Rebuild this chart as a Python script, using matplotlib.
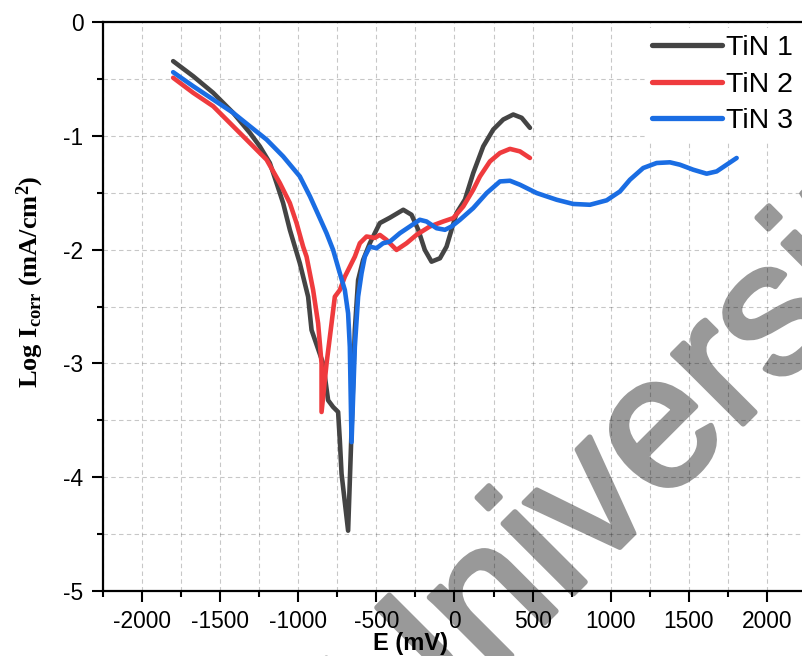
import matplotlib
matplotlib.use("Agg")
import matplotlib.pyplot as plt
import matplotlib.patheffects as pe
from matplotlib.ticker import MultipleLocator

plt.rcParams['font.family'] = ['Liberation Sans', 'DejaVu Sans']
plt.rcParams['axes.unicode_minus'] = False
plt.rcParams['mathtext.fontset'] = 'custom'
plt.rcParams['mathtext.rm'] = 'Liberation Serif:bold'
plt.rcParams['mathtext.bf'] = 'Liberation Serif:bold'
plt.rcParams['mathtext.it'] = 'Liberation Serif:bold'

# polarisation curves
e_tin1 = [-1801, -1673, -1545, -1417, -1310, -1246, -1182, -1139, -1097, -1054, -990, -937,
          -915, -841, -809, -777, -745, -734, -723, -681, -670, -659, -638, -617, -585, -542,
          -478, -414, -328, -275, -232, -190, -147, -93, -51, -19, 13, 67, 120, 184, 248, 312,
          376, 430, 483]
i_tin1 = [-0.344, -0.476, -0.622, -0.798, -0.974, -1.093, -1.239, -1.415, -1.591, -1.826, -2.12,
          -2.414, -2.707, -3.001, -3.324, -3.383, -3.427, -3.677, -3.970, -4.470, -4.029, -3.588,
          -2.707, -2.267, -2.091, -1.944, -1.767, -1.72, -1.650, -1.694, -1.826, -2.003, -2.106,
          -2.076, -1.974, -1.826, -1.679, -1.56, -1.327, -1.093, -0.945, -0.857, -0.813, -0.842,
          -0.930]

e_tin2 = [-1801, -1673, -1545, -1417, -1310, -1203, -1118, -1054, -1011, -969, -947, -905, -873,
          -851, -851, -819, -787, -766, -734, -702, -670, -638, -606, -563, -510, -478, -435,
          -371, -307, -243, -158, -72, -8, 56, 120, 163, 227, 291, 355, 419, 483]
i_tin2 = [-0.490, -0.622, -0.740, -0.916, -1.063, -1.210, -1.415, -1.591, -1.767, -1.974, -2.062,
          -2.355, -2.648, -3.001, -3.427, -3.001, -2.648, -2.414, -2.355, -2.238, -2.150, -2.062,
          -1.944, -1.885, -1.897, -1.871, -1.915, -2.003, -1.944, -1.870, -1.797, -1.753, -1.723,
          -1.621, -1.474, -1.357, -1.225, -1.151, -1.115, -1.137, -1.195]

e_tin3 = [-1801, -1673, -1545, -1417, -1310, -1203, -1097, -990, -925, -870, -819, -777, -734,
          -702, -681, -670, -659, -638, -617, -595, -574, -542, -499, -457, -414, -350, -286,
          -222, -179, -115, -61, -19, 35, 120, 206, 291, 355, 419, 526, 654, 760, 867, 974,
          1059, 1123, 1208, 1294, 1379, 1443, 1528, 1614, 1678, 1742, 1806]
i_tin3 = [-0.441, -0.564, -0.681, -0.798, -0.916, -1.033, -1.181, -1.357, -1.533, -1.70, -1.856,
          -2.003, -2.208, -2.355, -2.560, -2.855, -3.692, -2.855, -2.414, -2.208, -2.062, -1.974,
          -1.988, -1.944, -1.930, -1.856, -1.797, -1.738, -1.753, -1.812, -1.826, -1.797, -1.738,
          -1.635, -1.503, -1.401, -1.395, -1.43, -1.503, -1.562, -1.599, -1.606, -1.567, -1.489,
          -1.386, -1.283, -1.239, -1.233, -1.254, -1.298, -1.333, -1.313, -1.254, -1.195]

labels = ['TiN 1', 'TiN 2', 'TiN 3']
colors = ['#444444', '#EF3B3E', '#1A6DE3']

fig = plt.figure(figsize=(8.03, 6.56), dpi=100, facecolor='white')
ax = fig.add_axes([103 / 803, 1 - 591 / 656, 703 / 803, 569 / 656])
ax.patch.set_visible(False)

for e, i, lab, c in zip([e_tin1, e_tin2, e_tin3], [i_tin1, i_tin2, i_tin3], labels, colors):
    ax.plot(e, i, color=c, lw=3.3, label=lab, solid_capstyle='round', solid_joinstyle='round')

ax.set_xlim(-2250, 2250)
ax.set_ylim(-5, 0)
ax.xaxis.set_major_locator(MultipleLocator(500))
ax.xaxis.set_minor_locator(MultipleLocator(250))
ax.yaxis.set_major_locator(MultipleLocator(1))
ax.yaxis.set_minor_locator(MultipleLocator(0.5))
# translucent grid so it shows darker where it crosses the watermark
ax.grid(which='both', color='black', alpha=0.22, lw=0.8, ls=(0, (4, 3)))
ax.set_axisbelow(True)
ax.tick_params(which='major', length=8, width=1.5, labelsize=16.4, pad=6)
ax.tick_params(which='minor', length=4.5, width=1.5)
for s in ax.spines.values():
    s.set_linewidth(1.6)

leg = ax.legend(loc='upper left', bbox_to_anchor=(645 / 803, 1 - 28 / 656),
                bbox_transform=fig.transFigure, fontsize=20.5, handlelength=2.46,
                handletextpad=0.15, labelspacing=0.37, borderpad=0.25, borderaxespad=0,
                frameon=True, fancybox=False)
leg.get_frame().set_edgecolor('none')
leg.get_frame().set_facecolor('white')
leg.get_frame().set_alpha(1)
for h in leg.get_lines():
    h.set_linewidth(3.8)

fig.text(373 / 803, 1 - 650 / 656, 'E (mV)', fontsize=17, fontweight='bold',
         ha='left', va='baseline')
fig.text(30 / 803, 1 - 282 / 656, r'Log I$_{\rm corr}$ (mA/cm$^{\rm 2}$)',
         family='Liberation Serif', fontweight='bold', fontsize=19,
         rotation=90, ha='center', va='center')

# watermark, drawn under the axes content
wm = '#999999'
fig.text(395 / 803, 1 - 772 / 656, 'Universiti', fontsize=135, color=wm,
         rotation=45, rotation_mode='anchor', ha='left', va='baseline', zorder=-1,
         path_effects=[pe.Stroke(linewidth=4, foreground=wm), pe.Normal()])

fig.savefig('out.png', dpi=100, facecolor='white')
